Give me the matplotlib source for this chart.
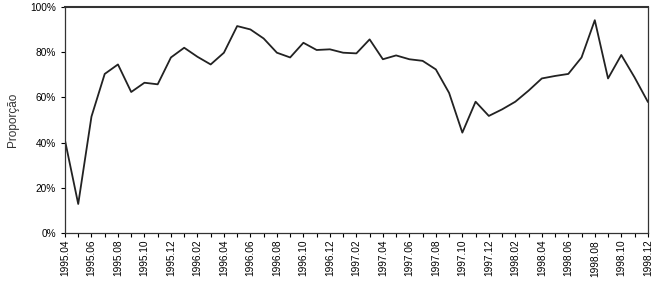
import matplotlib
matplotlib.use('Agg')
import matplotlib.pyplot as plt
from matplotlib.ticker import PercentFormatter

plt.rcParams['font.family'] = ['Liberation Sans', 'DejaVu Sans']

# meses de 1995.04 a 1998.12
months = []
for yr in range(1995, 1999):
    for m in range(1, 13):
        if yr == 1995 and m < 4:
            continue
        months.append('%d.%02d' % (yr, m))

proporcao = [41, 12.8, 51.5, 70.4, 74.6, 62.4, 66.5, 65.8, 77.7,
             82.0, 78.0, 74.6, 79.8, 91.6, 90.1, 86.1, 79.8, 77.7, 84.2, 81.0, 81.3,
             79.8, 79.5, 85.7, 76.9, 78.6, 76.9, 76.2, 72.4, 62.0, 44.4, 58.1, 51.8,
             54.7, 58.1, 63.0, 68.4, 69.5, 70.4, 77.7, 94.2, 68.4, 78.8, 68.9, 58.1]

x = list(range(len(months)))

fig = plt.figure(figsize=(6.53, 2.84), dpi=100)
ax = fig.add_axes([0.0995, 0.18, 0.8925, 0.795])

ax.plot(x, proporcao, color='#222222', lw=1.3)

ax.set_xlim(0, len(months) - 1)
ax.set_ylim(0, 100)
ax.set_yticks([0, 20, 40, 60, 80, 100])
ax.yaxis.set_major_formatter(PercentFormatter(decimals=0))
ax.set_xticks(x[::2])
ax.set_xticklabels(months[::2], rotation=90, fontsize=7.3)
ax.set_xticks(x, minor=True)
ax.tick_params(axis='y', labelsize=7.3, length=3, width=0.8)
ax.tick_params(axis='x', which='both', length=3, width=0.8, pad=2)
ax.set_ylabel('Proporção', fontsize=8.5, color='#333333', labelpad=8)

for s in ax.spines.values():
    s.set_color('#333333')
    s.set_linewidth(0.9)
ax.spines['top'].set_linewidth(1.5)

fig.savefig('out.png', dpi=100)
